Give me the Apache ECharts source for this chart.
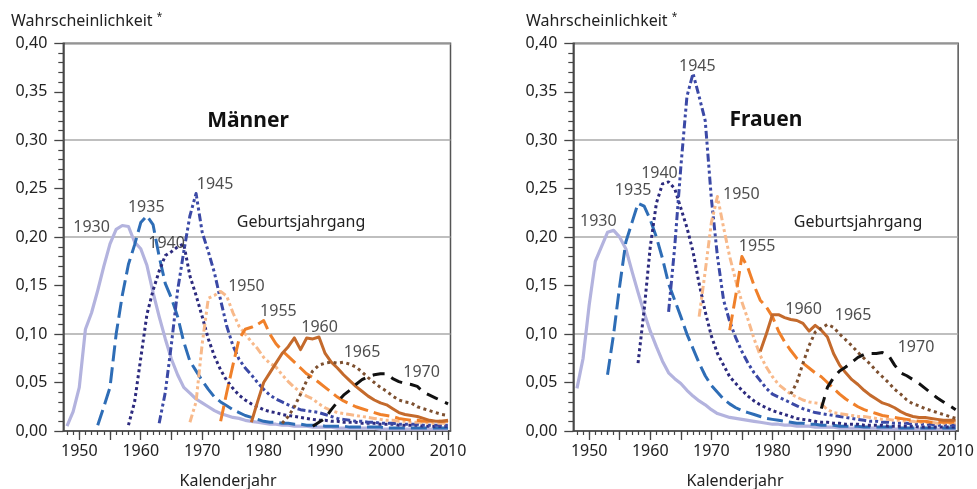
<!DOCTYPE html>
<html><head><meta charset="utf-8">
<script src="https://cdn.jsdelivr.net/npm/echarts@6/dist/echarts.min.js"></script>
<style>html,body{margin:0;padding:0;background:#fff}#c{width:977px;height:489px}</style>
</head><body><div id="c"></div>
<script>
// ---- data ----
const cohorts = ['1930','1935','1940','1945','1950','1955','1960','1965','1970'];
const startYears = [1948,1953,1958,1963,1968,1973,1978,1983,1988];
const xLabelYears = [1950,1960,1970,1980,1990,2000,2010];
const yLabelValues = [0,0.05,0.10,0.15,0.20,0.25,0.30,0.35,0.40];

// Männer
const m1930 = [0.005,0.02,0.045,0.105,0.122,0.145,0.17,0.193,0.208,0.212, 0.211,0.195,0.188,0.171,0.143,0.118,0.095,0.074,0.058,0.045, 0.039,0.033,0.029,0.025,0.021,0.018,0.016,0.014,0.013,0.011, 0.010,0.009,0.008,0.007,0.007,0.006,0.006,0.005,0.005,0.005, 0.004,0.004,0.004,0.004,0.003,0.003,0.003,0.003,0.003,0.003, 0.003,0.002,0.002,0.002,0.002,0.002,0.002,0.002,0.002,0.002, 0.002,0.002,0.002];
const m1935 = [0.006,0.025,0.045,0.10,0.14,0.172,0.192,0.215,0.222,0.213, 0.18,0.152,0.137,0.118,0.092,0.072,0.062,0.052,0.043,0.035, 0.03,0.026,0.022,0.019,0.016,0.014,0.012,0.010,0.009,0.009, 0.008,0.008,0.007,0.007,0.006,0.006,0.006,0.005,0.005,0.005, 0.005,0.004,0.004,0.004,0.004,0.004,0.004,0.003,0.003,0.003, 0.003,0.003,0.003,0.003,0.003,0.003,0.003,0.003];
const m1940 = [0.006,0.03,0.075,0.12,0.145,0.165,0.181,0.185,0.19,0.193, 0.16,0.14,0.118,0.095,0.077,0.063,0.052,0.044,0.037,0.032, 0.028,0.025,0.022,0.02,0.019,0.017,0.016,0.015,0.014,0.013, 0.012,0.011,0.011,0.010,0.010,0.009,0.009,0.009,0.008,0.008, 0.008,0.007,0.007,0.007,0.006,0.006,0.006,0.006,0.005,0.005, 0.005,0.005,0.005];
const m1945 = [0.008,0.04,0.09,0.145,0.185,0.222,0.245,0.205,0.185,0.163, 0.135,0.108,0.088,0.074,0.065,0.058,0.05,0.043,0.037,0.033, 0.03,0.027,0.024,0.022,0.021,0.02,0.019,0.017,0.015,0.013, 0.012,0.011,0.010,0.010,0.009,0.009,0.008,0.008,0.008,0.007, 0.007,0.007,0.007,0.006,0.006,0.006,0.006,0.006];
const m1950 = [0.009,0.03,0.09,0.137,0.14,0.144,0.139,0.122,0.108,0.1, 0.092,0.085,0.076,0.07,0.066,0.058,0.051,0.045,0.04,0.036, 0.033,0.028,0.024,0.021,0.019,0.018,0.017,0.016,0.015,0.014, 0.013,0.012,0.011,0.011,0.010,0.010,0.009,0.009,0.009,0.008, 0.008,0.008,0.008];
const m1955 = [0.01,0.04,0.068,0.095,0.105,0.107,0.11,0.114,0.1,0.09, 0.083,0.077,0.071,0.065,0.059,0.055,0.05,0.045,0.04,0.035, 0.031,0.028,0.025,0.023,0.021,0.019,0.017,0.016,0.015,0.013, 0.012,0.011,0.011,0.010,0.010,0.010,0.010,0.010];
const m1960 = [0.009,0.03,0.05,0.06,0.07,0.08,0.087,0.096,0.084,0.096, 0.095,0.097,0.08,0.071,0.065,0.058,0.052,0.046,0.041,0.036, 0.032,0.029,0.027,0.023,0.019,0.017,0.016,0.015,0.013,0.011, 0.010,0.010,0.011];
const m1965 = [0.008,0.015,0.025,0.038,0.052,0.062,0.068,0.07,0.071,0.07, 0.071,0.069,0.066,0.061,0.055,0.05,0.045,0.041,0.036,0.032, 0.03,0.029,0.025,0.023,0.021,0.019,0.017,0.016];
const m1970 = [0.005,0.009,0.013,0.022,0.03,0.037,0.042,0.048,0.053,0.056, 0.058,0.059,0.059,0.054,0.051,0.049,0.048,0.046,0.04,0.037, 0.034,0.031,0.028];

// Frauen
const f1930 = [0.044,0.075,0.13,0.175,0.19,0.205,0.207,0.2,0.188,0.165, 0.143,0.122,0.103,0.087,0.072,0.06,0.054,0.049,0.042,0.036, 0.031,0.027,0.022,0.018,0.016,0.014,0.013,0.012,0.011,0.010, 0.009,0.008,0.007,0.007,0.006,0.006,0.005,0.005,0.005,0.004, 0.004,0.004,0.004,0.003,0.003,0.003,0.003,0.003,0.003,0.003, 0.002,0.002,0.002,0.002,0.002,0.002,0.002,0.002,0.002,0.002, 0.002,0.002,0.002];
const f1935 = [0.058,0.1,0.15,0.195,0.215,0.235,0.232,0.218,0.2,0.178, 0.152,0.135,0.118,0.1,0.085,0.07,0.057,0.047,0.04,0.033, 0.028,0.024,0.021,0.019,0.017,0.015,0.013,0.012,0.011,0.010, 0.009,0.008,0.008,0.007,0.007,0.006,0.006,0.006,0.005,0.005, 0.005,0.005,0.004,0.004,0.004,0.004,0.004,0.004,0.003,0.003, 0.003,0.003,0.003,0.003,0.003,0.003,0.003,0.003];
const f1940 = [0.07,0.125,0.19,0.235,0.255,0.257,0.25,0.23,0.21,0.185, 0.152,0.123,0.098,0.08,0.068,0.056,0.049,0.042,0.036,0.031, 0.027,0.024,0.021,0.019,0.017,0.015,0.013,0.012,0.011,0.010, 0.009,0.009,0.008,0.008,0.007,0.007,0.007,0.006,0.006,0.006, 0.006,0.005,0.005,0.005,0.005,0.005,0.004,0.004,0.004,0.004, 0.004,0.004,0.004];
const f1945 = [0.123,0.19,0.272,0.345,0.369,0.345,0.32,0.24,0.18,0.135, 0.113,0.096,0.082,0.07,0.06,0.052,0.044,0.038,0.035,0.032, 0.029,0.026,0.023,0.021,0.019,0.018,0.017,0.016,0.015,0.014, 0.013,0.012,0.011,0.010,0.010,0.009,0.009,0.008,0.008,0.008, 0.007,0.007,0.007,0.007,0.006,0.006,0.006,0.006];
const f1950 = [0.118,0.165,0.215,0.242,0.21,0.18,0.155,0.133,0.115,0.095, 0.078,0.066,0.056,0.048,0.043,0.038,0.035,0.032,0.03,0.029, 0.028,0.022,0.019,0.018,0.017,0.016,0.015,0.015,0.014,0.013, 0.012,0.012,0.011,0.011,0.010,0.010,0.009,0.009,0.009,0.008, 0.008,0.008,0.008];
const f1955 = [0.104,0.14,0.18,0.168,0.15,0.135,0.128,0.118,0.103,0.092, 0.083,0.075,0.07,0.065,0.06,0.056,0.05,0.044,0.038,0.033, 0.029,0.025,0.022,0.02,0.018,0.016,0.015,0.014,0.013,0.012, 0.011,0.010,0.010,0.009,0.009,0.009,0.009,0.009];
const f1960 = [0.082,0.1,0.12,0.12,0.117,0.115,0.114,0.111,0.103,0.109, 0.104,0.097,0.08,0.068,0.06,0.053,0.048,0.042,0.037,0.033, 0.029,0.027,0.024,0.02,0.017,0.015,0.014,0.014,0.013,0.012, 0.011,0.011,0.011];
const f1965 = [0.038,0.05,0.07,0.088,0.102,0.106,0.11,0.107,0.1,0.094, 0.088,0.081,0.075,0.069,0.062,0.056,0.05,0.043,0.038,0.032, 0.028,0.026,0.023,0.021,0.019,0.017,0.015,0.013];
const f1970 = [0.023,0.045,0.055,0.062,0.066,0.071,0.076,0.079,0.08,0.08, 0.081,0.078,0.068,0.06,0.057,0.053,0.049,0.044,0.039,0.034, 0.03,0.026,0.022];

// cohort label anchors (year, value) per panel
const labelsM = [['1930',1952.0,0.210],['1935',1960.9,0.231],['1940',1964.2,0.193],['1945',1972.1,0.254],['1950',1977.2,0.149],['1955',1982.4,0.123],['1960',1989.1,0.107],['1965',1996.0,0.081],['1970',2005.7,0.060]];
const labelsF = [['1930',1951.5,0.216],['1935',1957.2,0.248],['1940',1961.5,0.266],['1945',1967.7,0.376],['1950',1974.9,0.244],['1955',1977.5,0.190],['1960',1985.1,0.125],['1965',1993.2,0.119],['1970',2003.5,0.086]];

const maenner = [m1930,m1935,m1940,m1945,m1950,m1955,m1960,m1965,m1970];
const frauen  = [f1930,f1935,f1940,f1945,f1950,f1955,f1960,f1965,f1970];

// ---- styles ----
const colors = ['#b3b3de','#2e6db6','#2c2a7e','#3b49a6','#f8b98a','#f0802a','#c46a2c','#7d5030','#111111'];
const dashes = [null,[16,6],[3,3],[8,3,3,3,3,3],[8,3,3,3,3,3],[16,6],null,[3,3.5],[12,8]];
const widths = [3.2,3,3,3,3,3,3,3,3];

const FONT = 'Noto Sans';
const TXT = '#222';
const XMIN = 1947.4, XMAX = 2010.4;
const everyYear = []; for (let y = 1948; y <= 2010; y++) everyYear.push(y);
const every5 = []; for (let y = 1950; y <= 2010; y += 5) every5.push(y);

function mainX(gi){
  return {type:'value', gridIndex:gi, min:XMIN, max:XMAX,
    axisLine:{show:true,onZero:false,lineStyle:{color:'#444',width:1.5}},
    axisTick:{show:true,customValues:every5,length:9,lineStyle:{color:'#444',width:1.3}},
    axisLabel:{customValues:xLabelYears,margin:12,fontSize:16,color:TXT,fontFamily:FONT,formatter:v=>String(Math.round(v))},
    splitLine:{show:false}};
}
function minorX(gi){
  return {type:'value', gridIndex:gi, min:XMIN, max:XMAX, position:'bottom',
    axisLine:{show:false,onZero:false},
    axisTick:{show:true,customValues:everyYear,length:4,lineStyle:{color:'#444',width:1.2}},
    axisLabel:{show:false}, splitLine:{show:false}};
}
function mainY(gi){
  return {type:'value', gridIndex:gi, min:0, max:0.4, interval:0.05,
    axisLine:{show:true,lineStyle:{color:'#444',width:1.5}},
    axisTick:{show:true,length:9,lineStyle:{color:'#444',width:1.3}},
    minorTick:{show:true,splitNumber:5,length:5,lineStyle:{color:'#444',width:1.2}},
    axisLabel:{margin:16,fontSize:16,color:TXT,fontFamily:FONT,
      formatter:v=>v.toFixed(2).replace('.',',')},
    splitLine:{show:false}};
}
function gridY(gi){
  return {type:'value', gridIndex:gi, min:0, max:0.4, interval:0.1, position:'left',
    axisLine:{show:false}, axisTick:{show:false}, axisLabel:{show:false},
    splitLine:{show:true,lineStyle:{color:'#aaaaaa',width:1.5}}};
}

const series = [];
function addPanel(vals, labels, xi, yi){
  vals.forEach((arr, k) => {
    series.push({type:'line', xAxisIndex:xi, yAxisIndex:yi, name:cohorts[k],
      data: arr.map((v,i)=>[startYears[k]+i, v]),
      showSymbol:false, symbol:'none', smooth:false, silent:true, z:3+k,
      lineStyle:{color:colors[k], width:widths[k], type: dashes[k] || 'solid', cap:'butt', join:'round'}});
  });
  series.push({type:'scatter', xAxisIndex:xi, yAxisIndex:yi, symbolSize:0, silent:true, z:20,
    data: labels.map(l=>({value:[l[1],l[2]], name:l[0]})),
    label:{show:true, position:'inside', formatter:p=>p.name, fontSize:16, color:TXT, fontFamily:FONT}});
}
addPanel(maenner, labelsM, 0, 0);
addPanel(frauen, labelsF, 2, 2);

const titleStyle = {text:'Wahrscheinlichkeit {s|*}', font:'16px "Noto Sans"', fill:TXT,
  rich:{s:{fontSize:10, fontFamily:FONT, fill:TXT, verticalAlign:'top', padding:[0,0,8,0]}}};

const chart = echarts.init(document.getElementById('c'), null, {renderer:'canvas'});
chart.setOption({
  animation:false,
  backgroundColor:'#fff',
  grid:[
    {left:63.3, right:526.5, top:43.3, bottom:58, show:true, borderColor:'#555', borderWidth:1.5, backgroundColor:'transparent'},
    {left:573.3, right:16, top:43.3, bottom:58, show:true, borderColor:'#555', borderWidth:1.5, backgroundColor:'transparent'}
  ],
  xAxis:[mainX(0), minorX(0), mainX(1), minorX(1)],
  yAxis:[mainY(0), gridY(0), mainY(1), gridY(1)],
  series: series,
  graphic:[
    {type:'text', left:11, top:12, style:Object.assign({}, titleStyle)},
    {type:'text', left:526, top:12, style:Object.assign({}, titleStyle)},
    {type:'text', x:248, y:121, style:{text:'Männer', font:'bold 21px "Noto Sans"', fill:'#111', align:'center', verticalAlign:'middle'}},
    {type:'text', x:766, y:120, style:{text:'Frauen', font:'bold 21px "Noto Sans"', fill:'#111', align:'center', verticalAlign:'middle'}},
    {type:'text', x:301, y:222, style:{text:'Geburtsjahrgang', font:'16px "Noto Sans"', fill:TXT, align:'center', verticalAlign:'middle'}},
    {type:'text', x:858, y:222, style:{text:'Geburtsjahrgang', font:'16px "Noto Sans"', fill:TXT, align:'center', verticalAlign:'middle'}},
    {type:'text', x:228, y:481, style:{text:'Kalenderjahr', font:'16px "Noto Sans"', fill:TXT, align:'center', verticalAlign:'middle'}},
    {type:'text', x:735, y:481, style:{text:'Kalenderjahr', font:'16px "Noto Sans"', fill:TXT, align:'center', verticalAlign:'middle'}}
  ]
});
</script></body></html>
